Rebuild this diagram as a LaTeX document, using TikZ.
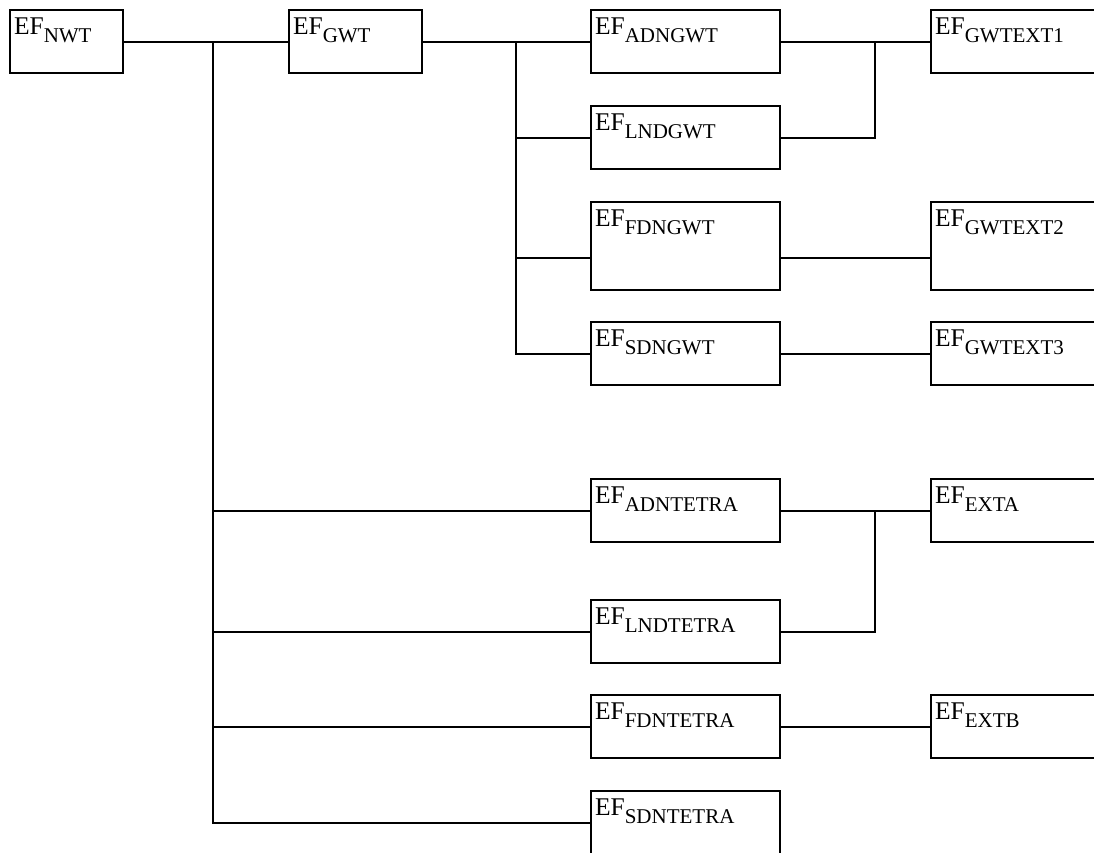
\documentclass[tikz,border=0pt]{standalone}
\usepackage{fontspec}
\setmainfont{Liberation Serif}
\usetikzlibrary{positioning}
\newcommand{\efsub}[1]{EF\raisebox{-8.5pt}{\fontsize{21}{23}\selectfont #1}}

\begin{document}
\begin{tikzpicture}[x=1pt, y=-1pt, every node/.style={font=\fontsize{25.5}{28}\selectfont}, efbox/.style={draw, line width=2.5pt, outer sep=0pt, inner sep=4pt, align=left, text height=20pt, text depth=35pt, text width=181pt}, tallbox/.style={text depth=60pt}, nw/.style={anchor=north west}, link/.style={line width=2pt}]
\useasboundingbox (0,0) rectangle (1094,852);
\clip (0,0) rectangle (1094,852);
\node[efbox, nw, text width=105pt] (nwt) at (10,10) {\efsub{NWT}};
\node[efbox, right=166pt of nwt.north east, nw, text width=125pt] (gwt) {\efsub{GWT}};
\node[efbox, right=169pt of gwt.north east, nw] (adngwt) {\efsub{ADNGWT}};
\node[efbox, below=33pt of adngwt.south west, nw] (lndgwt) {\efsub{LNDGWT}};
\node[efbox, tallbox, below=33pt of lndgwt.south west, nw] (fdngwt) {\efsub{FDNGWT}};
\node[efbox, below=32pt of fdngwt.south west, nw] (sdngwt) {\efsub{SDNGWT}};
\node[efbox, below=94pt of sdngwt.south west, nw] (adntetra) {\efsub{ADNTETRA}};
\node[efbox, below=58pt of adntetra.south west, nw] (lndtetra) {\efsub{LNDTETRA}};
\node[efbox, below=32pt of lndtetra.south west, nw] (fdntetra) {\efsub{FDNTETRA}};
\node[efbox, below=33pt of fdntetra.south west, nw] (sdntetra) {\efsub{SDNTETRA}};
\node[efbox, right=151pt of adngwt.north east, nw] (gwtext1) {\efsub{GWTEXT1}};
\node[efbox, tallbox, right=151pt of fdngwt.north east, nw] (gwtext2) {\efsub{GWTEXT2}};
\node[efbox, right=151pt of sdngwt.north east, nw] (gwtext3) {\efsub{GWTEXT3}};
\node[efbox, right=151pt of adntetra.north east, nw] (exta) {\efsub{EXTA}};
\node[efbox, right=151pt of fdntetra.north east, nw] (extb) {\efsub{EXTB}};
% branch points
\coordinate[right=90pt of nwt.east] (b1);
\coordinate[right=94pt of gwt.east] (b2);
\coordinate[right=95pt of adngwt.east] (j1);
\coordinate[right=95pt of adntetra.east] (j2);
% NWT level
\draw[link] (nwt.east) -- (gwt.west);
\foreach \n in {adntetra,lndtetra,fdntetra,sdntetra} \draw[link] (\n.west) -| (b1);
% GWT level
\draw[link] (gwt.east) -- (adngwt.west);
\foreach \n in {lndgwt,sdngwt} \draw[link] (\n.west) -| (b2);
\draw[link] ([yshift=-12pt]fdngwt.west) -| (b2);
% extensions
\draw[link] (adngwt.east) -- (gwtext1.west);
\draw[link] (lndgwt.east) -| (j1);
\draw[link] ([yshift=-12pt]fdngwt.east) -- ([yshift=-12pt]gwtext2.west);
\draw[link] (sdngwt.east) -- (gwtext3.west);
\draw[link] (adntetra.east) -- (exta.west);
\draw[link] (lndtetra.east) -| (j2);
\draw[link] (fdntetra.east) -- (extb.west);
\end{tikzpicture}
\end{document}
